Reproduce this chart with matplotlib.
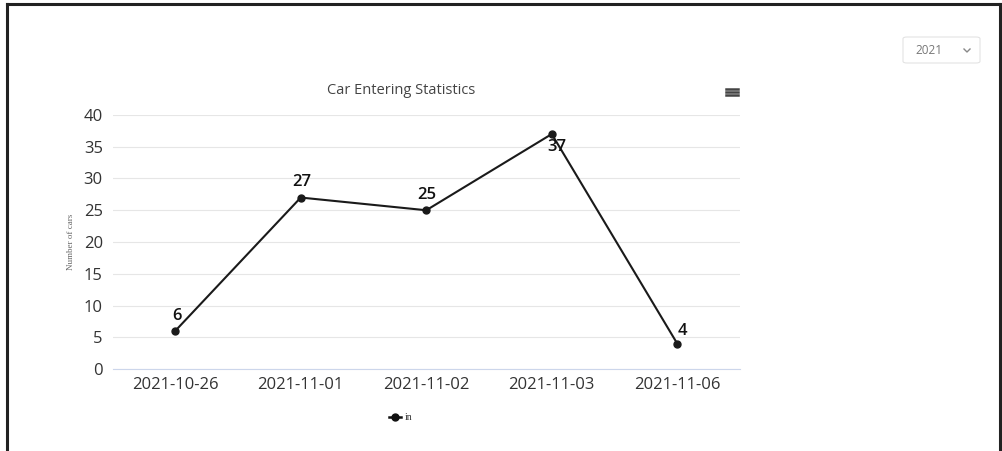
import matplotlib
matplotlib.use("Agg")
from matplotlib import pyplot as plt
from matplotlib.patches import FancyBboxPatch
from matplotlib.lines import Line2D

dates = ["2021-10-26", "2021-11-01", "2021-11-02", "2021-11-03", "2021-11-06"]
cars_in = [6, 27, 25, 37, 4]
y_ticks = [0, 5, 10, 15, 20, 25, 30, 35, 40]

plt.rcParams["font.family"] = ["Open Sans", "DejaVu Sans"]

W, H = 1002, 451
fig = plt.figure(figsize=(W / 100, H / 100), dpi=100)
fig.patch.set_facecolor("white")

# page border (top, left, right)
fig.add_artist(Line2D([7 / W, 7 / W], [0, 1 - 4 / H], color="#222222", lw=2.2))
fig.add_artist(Line2D([7 / W, 1000 / W], [1 - 4 / H, 1 - 4 / H], color="#222222", lw=2.2))
fig.add_artist(Line2D([1000 / W, 1000 / W], [0, 1 - 4 / H], color="#222222", lw=2.2))

left, right, top, bottom = 112.5, 740, 115, 369
ax = fig.add_axes([left / W, 1 - bottom / H, (right - left) / W, (bottom - top) / H])

x = list(range(len(dates)))
ax.plot(x, cars_in, color="#1a1a1a", lw=1.5, marker="o", ms=5, zorder=3, clip_on=False)

ax.set_xlim(-0.5, len(dates) - 0.5)
ax.set_ylim(0, 40)
ax.set_yticks(y_ticks)
ax.set_xticks(x)
ax.set_xticklabels(dates)
ax.tick_params(axis="both", length=0, labelsize=12, colors="#333333")
ax.tick_params(axis="y", pad=7)
ax.tick_params(axis="x", pad=6)
ax.grid(axis="y", color="#e6e6e6", lw=0.8)
for s in ["top", "right", "left"]:
    ax.spines[s].set_visible(False)
ax.spines["bottom"].set_color("#ccd6eb")
ax.set_axisbelow(True)

# data labels
offsets = [(1, 11), (1, 11), (0, 11), (4, -9), (4, 9)]
for xi, v, (dx, dy) in zip(x, cars_in, offsets):
    ax.annotate(str(v), (xi, v), xytext=(dx, dy), textcoords="offset points",
                ha="center", va="center", fontsize=12, fontweight="semibold", color="#111111")

ax.set_ylabel("Number of cars", fontsize=6.5, family="Liberation Serif", color="#666666")
ax.yaxis.set_label_coords((75 - left) / (right - left), 0.5)

fig.text(401 / W, 1 - 90 / H, "Car Entering Statistics", ha="center", va="center",
         fontsize=10.5, color="#444444")

# menu icon
for dy in (-3, 0, 3):
    fig.add_artist(Line2D([726 / W, 738 / W], [1 - (92 + dy) / H] * 2, color="#444444", lw=1.8))

# legend
fig.add_artist(Line2D([389 / W, 401 / W], [1 - 417 / H] * 2, color="#111111", lw=1.8))
fig.add_artist(Line2D([395 / W], [1 - 417 / H], color="#111111", marker="o", ms=5, lw=0))
fig.text(405 / W, 1 - 417 / H, "in", ha="left", va="center", fontsize=7,
         family="Liberation Serif", color="#333333")

# year dropdown
box = FancyBboxPatch((903 / W, 1 - 63 / H), 77 / W, 26 / H,
                     boxstyle="round,pad=0,rounding_size=0.004",
                     transform=fig.transFigure, fc="white", ec="#e3e3e3", lw=0.8)
fig.add_artist(box)
fig.text(915 / W, 1 - 51 / H, "2021", ha="left", va="center", fontsize=8.5, color="#777777")
fig.add_artist(Line2D([964 / W, 967 / W, 970 / W], [1 - 49 / H, 1 - 52 / H, 1 - 49 / H],
                      color="#888888", lw=1.0))

fig.savefig("out.png", dpi=100)
